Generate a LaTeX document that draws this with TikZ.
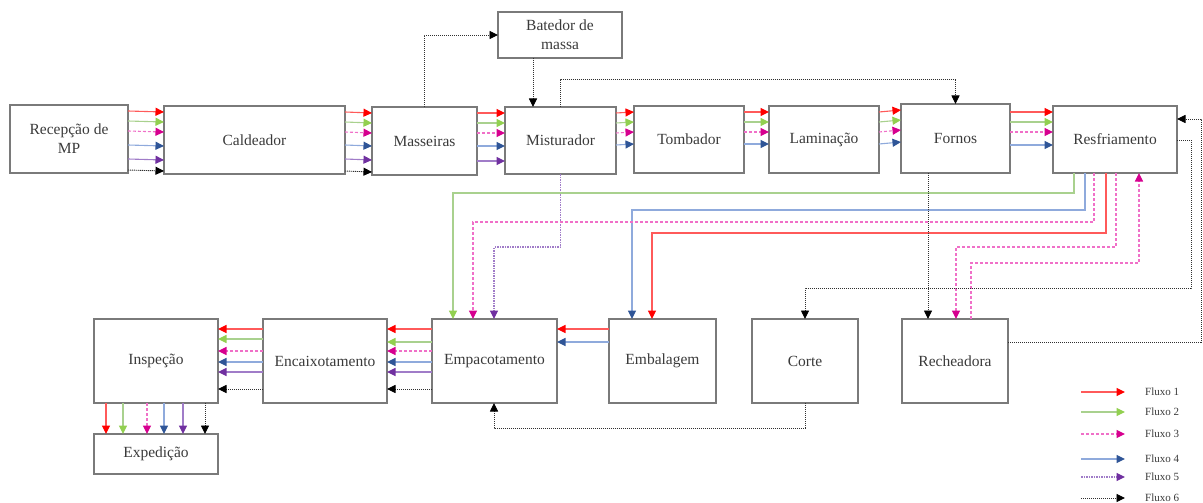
\documentclass[tikz,border=0pt]{standalone}
\usepackage{fontspec}
\setmainfont{Liberation Serif}
\usetikzlibrary{arrows.meta}
\definecolor{aR}{HTML}{FF0000}\definecolor{lR}{HTML}{FF5A5A}
\definecolor{aG}{HTML}{92D050}\definecolor{lG}{HTML}{A9D18E}
\definecolor{aM}{HTML}{D6008F}\definecolor{lM}{HTML}{F070C8}
\definecolor{aB}{HTML}{2F5597}\definecolor{lB}{HTML}{8FAADC}
\definecolor{aP}{HTML}{7030A0}\definecolor{lP}{HTML}{A07CC8}
\definecolor{aK}{HTML}{000000}\definecolor{lK}{HTML}{303030}
\definecolor{boxc}{HTML}{7A7A7A}
\definecolor{txt}{HTML}{3A3A3A}
\tikzset{
  box/.style={draw=boxc, line width=1.2pt, rectangle, inner sep=0pt, outer sep=0pt,
    anchor=north west, align=center, text=txt, font=\fontsize{15.5}{19}\selectfont},
  tipc/.style={-{Triangle[length=8.5pt,width=8pt,color=#1]}},
  fl/.style={line width=1.1pt},
  f1/.style={fl, draw=lR, tipc=aR},
  f2/.style={fl, draw=lG, tipc=aG},
  f3/.style={fl, draw=lM, dash pattern=on 3pt off 2pt, tipc=aM},
  f4/.style={fl, draw=lB, tipc=aB},
  f5/.style={fl, draw=lP, tipc=aP},
  f5d/.style={f5, dash pattern=on 1.5pt off 1pt},
  f6/.style={line width=0.9pt, draw=lK, dash pattern=on 1.2pt off 0.8pt, tipc=aK},
  leg/.style={anchor=west, inner sep=0pt, text=txt, font=\fontsize{11}{12}\selectfont},
}
% horizontal arrow from left node to right node, offset from top
\newcommand\hfl[4]{\draw[#1] ([yshift=-#4pt]#2.north east) -- ([yshift=-#4pt]#3.north west);}
% leftward arrow
\newcommand\hfr[4]{\draw[#1] ([yshift=-#4pt]#2.north west) -- ([yshift=-#4pt]#3.north east);}
\begin{document}
\begin{tikzpicture}[x=1pt,y=-1pt]
\useasboundingbox (0,0) rectangle (1203,503);
% top row
\node[box, minimum width=118pt, minimum height=68pt] (rec) at (10,105) {Recepção de\\MP};
\node[box, minimum width=181pt, minimum height=68pt] (cal) at (164,106) {Caldeador};
\node[box, minimum width=105pt, minimum height=68pt] (mas) at (372,107) {Masseiras};
\node[box, minimum width=124pt, minimum height=46pt] (bat) at (498,12) {Batedor de\\massa};
\node[box, minimum width=111pt, minimum height=67pt] (mis) at (505,107) {Misturador};
\node[box, minimum width=110pt, minimum height=67pt] (tom) at (634,106) {Tombador};
\node[box, minimum width=110pt, minimum height=67pt] (lam) at (769,106) {Laminação};
\node[box, minimum width=109pt, minimum height=69pt] (for) at (901,104) {Fornos};
\node[box, minimum width=124pt, minimum height=67pt] (res) at (1053,106) {Resfriamento};
% bottom row
\node[box, minimum width=124pt, minimum height=84pt] (ins) at (94,319) {Inspeção};
\node[box, minimum width=124pt, minimum height=84pt] (enc) at (263,319) {Encaixotamento};
\node[box, minimum width=125pt, minimum height=84pt] (emp) at (432,319) {Empacotamento};
\node[box, minimum width=107pt, minimum height=84pt] (emb) at (609,319) {Embalagem};
\node[box, minimum width=106pt, minimum height=84pt] (cor) at (752,319) {Corte};
\node[box, minimum width=106pt, minimum height=84pt] (rch) at (902,319) {Recheadora};
\node[box, minimum width=124pt, minimum height=40pt] (exp) at (94,434) {Expedição};

% top row flows
\hfl{f1}{rec}{cal}{6}\hfl{f2}{rec}{cal}{16}\hfl{f3}{rec}{cal}{26}
\hfl{f4}{rec}{cal}{40}\hfl{f5}{rec}{cal}{54}\hfl{f6}{rec}{cal}{65}
\hfl{f1}{cal}{mas}{6}\hfl{f2}{cal}{mas}{16}\hfl{f3}{cal}{mas}{26}
\hfl{f4}{cal}{mas}{39}\hfl{f5}{cal}{mas}{53}\hfl{f6}{cal}{mas}{65}
\hfl{f1}{mas}{mis}{6}\hfl{f2}{mas}{mis}{16}\hfl{f3}{mas}{mis}{26}
\hfl{f4}{mas}{mis}{39}\hfl{f5}{mas}{mis}{54}
\hfl{f1}{mis}{tom}{6}\hfl{f2}{mis}{tom}{16}\hfl{f3}{mis}{tom}{26}\hfl{f4}{mis}{tom}{38}
\hfl{f1}{tom}{lam}{6}\hfl{f2}{tom}{lam}{16}\hfl{f3}{tom}{lam}{26}\hfl{f4}{tom}{lam}{38}
\hfl{f1}{lam}{for}{6}\hfl{f2}{lam}{for}{16}\hfl{f3}{lam}{for}{26}\hfl{f4}{lam}{for}{38}
\draw[f1] ([yshift=-8pt]for.north east) -- ([yshift=-6pt]res.north west);
\draw[f2] ([yshift=-18pt]for.north east) -- ([yshift=-16pt]res.north west);
\draw[f3] ([yshift=-28pt]for.north east) -- ([yshift=-26pt]res.north west);
\draw[f4] ([yshift=-41pt]for.north east) -- ([yshift=-39pt]res.north west);

% level coordinates
\coordinate (L35) at (0,35);
\coordinate (L79) at (0,79);
\coordinate (L193) at (0,193);
\coordinate (L210) at (0,210);
\coordinate (L222) at (0,222);
\coordinate (L233) at (0,233);
\coordinate (L247) at (0,247);
\coordinate (L263) at (0,263);
\coordinate (L428) at (0,428);
\coordinate (cR1) at (1191,288);
\coordinate (cR2) at (1201,119);

% Masseiras -> Batedor
\coordinate (m0) at ([xshift=52pt]mas.north west);
\draw[f6] (m0) -- (m0 |- L35) -- (bat.west);
% Batedor -> Misturador
\draw[f6] ([xshift=35pt]bat.south west) -- ([xshift=28pt]mis.north west);
% Misturador -> Fornos
\draw[f6] (mis.north) -- (mis.north |- L79) -| (for.north);
% Misturador -> Empacotamento (purple)
\draw[f5d] (mis.south) -- (mis.south |- L247) -| ([xshift=62pt]emp.north west);

% Resfriamento bottom flows
\coordinate (g0) at ([xshift=21pt]res.south west);
\draw[f2] (g0) -- (g0 |- L193) -| ([xshift=21pt]emp.north west);
\coordinate (b0) at ([xshift=32pt]res.south west);
\draw[f4] (b0) -- (b0 |- L210) -| ([xshift=23pt]emb.north west);
\coordinate (p0) at ([xshift=41pt]res.south west);
\draw[f3] (p0) -- (p0 |- L222) -| ([xshift=41pt]emp.north west);
\coordinate (r0) at ([xshift=53pt]res.south west);
\draw[f1] (r0) -- (r0 |- L233) -| ([xshift=43pt]emb.north west);
\coordinate (p1) at ([xshift=63pt]res.south west);
\draw[f3] (p1) -- (p1 |- L247) -| ([xshift=54pt]rch.north west);
\coordinate (p2) at ([xshift=69pt]rch.north west);
\draw[f3] (p2) -- (p2 |- L263) -| ([xshift=86pt]res.south west);
% Fornos -> Recheadora
\draw[f6] ([xshift=27pt]for.south west) -- ([xshift=26pt]rch.north west);
% Resfriamento -> Corte
\draw[f6] ([yshift=-34pt]res.north east) -| (cR1) -| (cor.north);
% Recheadora -> Resfriamento
\draw[f6] ([yshift=-23pt]rch.north east) -| (cR2) -- ([yshift=-13pt]res.north east);
% Corte -> Empacotamento
\draw[f6] (cor.south) -- (cor.south |- L428) -| ([xshift=62pt]emp.south west);

% bottom row flows (leftward)
\hfr{f1}{emb}{emp}{10}\hfr{f4}{emb}{emp}{23}
\hfr{f1}{emp}{enc}{10}\hfr{f2}{emp}{enc}{23}\hfr{f3}{emp}{enc}{32}
\hfr{f4}{emp}{enc}{43}\hfr{f5}{emp}{enc}{53}\hfr{f6}{emp}{enc}{70}
\hfr{f1}{enc}{ins}{10}\hfr{f2}{enc}{ins}{20}\hfr{f3}{enc}{ins}{32}
\hfr{f4}{enc}{ins}{43}\hfr{f5}{enc}{ins}{53}\hfr{f6}{enc}{ins}{70}

% Inspeção -> Expedição
\foreach \s/\x in {f1/12,f2/29,f3/53,f4/70,f5/89,f6/111}{
  \draw[\s] ([xshift=\x pt]ins.south west) -- ([xshift=\x pt]exp.north west);
}

% legend
\node[leg] (l1) at (1145,392) {Fluxo 1};
\node[leg] (l2) at (1145,412) {Fluxo 2};
\node[leg] (l3) at (1145,434) {Fluxo 3};
\node[leg] (l4) at (1145,459) {Fluxo 4};
\node[leg] (l5) at (1145,477) {Fluxo 5};
\node[leg] (l6) at (1145,498) {Fluxo 6};
\draw[f1] ([xshift=-64pt]l1.west) -- ([xshift=-20pt]l1.west);
\draw[f2] ([xshift=-64pt]l2.west) -- ([xshift=-20pt]l2.west);
\draw[f3] ([xshift=-64pt]l3.west) -- ([xshift=-20pt]l3.west);
\draw[f4] ([xshift=-64pt]l4.west) -- ([xshift=-20pt]l4.west);
\draw[f5d] ([xshift=-64pt]l5.west) -- ([xshift=-20pt]l5.west);
\draw[f6] ([xshift=-64pt]l6.west) -- ([xshift=-20pt]l6.west);
\end{tikzpicture}
\end{document}
